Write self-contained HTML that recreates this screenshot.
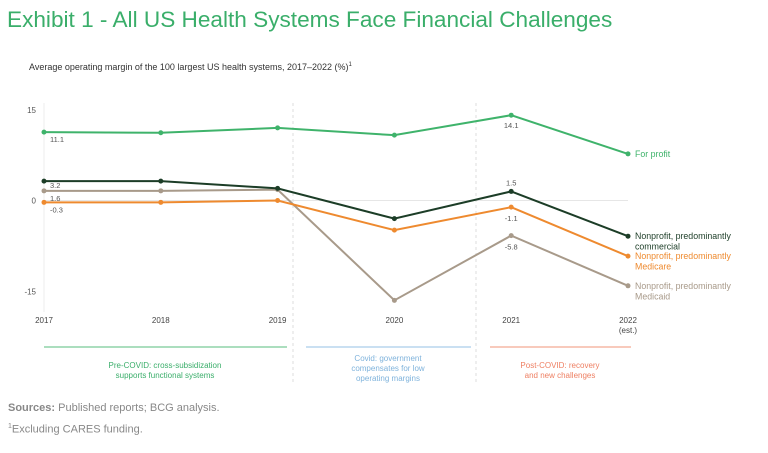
<!DOCTYPE html>
<html><head><meta charset="utf-8"><style>
body{margin:0;background:#fff;font-family:"Liberation Sans",sans-serif;}
#wrap{position:relative;width:768px;height:453px;overflow:hidden}
.t{position:absolute;white-space:nowrap}
</style></head><body>
<div id="wrap">
<div class="t" style="left:7px;top:7px;font-size:22.6px;color:#3aae6a;">Exhibit 1 - All US Health Systems Face Financial Challenges</div>
<div class="t" style="left:29px;top:62px;font-size:9px;color:#333;">Average operating margin of the 100 largest US health systems, 2017–2022 (%)<sup style="font-size:6px">1</sup></div>
<svg id="svg" width="768" height="453" style="position:absolute;left:0;top:0"></svg>
<div class="t" style="left:8px;top:402px;font-size:11px;color:#888;"><b>Sources:</b> Published reports; BCG analysis.</div>
<div class="t" style="left:8px;top:423px;font-size:11px;color:#888;"><sup style="font-size:7px">1</sup>Excluding CARES funding.</div>
</div>
<script>
const years=["2017","2018","2019","2020","2021","2022"];
const forProfit=[11.3,11.2,12.0,10.8,14.1,7.7];
const commercial=[3.2,3.2,2.0,-3.0,1.5,-5.9];
const medicare=[-0.3,-0.3,0.0,-4.9,-1.1,-9.2];
const medicaid=[1.6,1.6,1.8,-16.5,-5.8,-14.1];
const yTicks=[15,0,-15];
const NS="http://www.w3.org/2000/svg";
const svg=document.getElementById('svg');
function x(i){return 44+i*116.8;}
function y(v){return 200.5-v*6.05;}
function el(t,a,txt){const e=document.createElementNS(NS,t);for(const k in a)e.setAttribute(k,a[k]);if(txt!==undefined)e.textContent=txt;svg.appendChild(e);return e;}
let e=el('line',{x1:44,y1:103,x2:44,y2:312,stroke:'#eee'});

e=el('line',{x1:44,y1:y(0),x2:628,y2:y(0),stroke:'#e6e6e6'});

[293,476].forEach(xx=>{const d=el('line',{x1:xx,y1:103,x2:xx,y2:385,stroke:'#ddd','stroke-dasharray':'3,3'});
});
yTicks.forEach(v=>{const t=el('text',{x:36,y:y(v)+3,'font-size':8,fill:'#555','text-anchor':'end'},String(v));
});
years.forEach((yr,i)=>{const t=el('text',{x:x(i),y:323,'font-size':8,fill:'#444','text-anchor':'middle'},yr);
});
e=el('text',{x:x(5),y:333,'font-size':8,fill:'#444','text-anchor':'middle'},'(est.)');

const series=[[medicaid,'#a89a8a','medicaid'],[medicare,'#ee8a2f','medicare'],[commercial,'#1c3d27','commercial'],[forProfit,'#3fb36b','for-profit']];
series.forEach(([d,c,n])=>{
 const p=el('polyline',{points:d.map((v,i)=>x(i)+','+y(v)).join(' '),fill:'none',stroke:c,'stroke-width':2});
 
 d.forEach((v,i)=>{const m=el('circle',{cx:x(i),cy:y(v),r:2.5,fill:c});
 });
});
const labs=[[forProfit,0,'11.1',8],[commercial,0,'3.2',5],[medicaid,0,'1.6',8],[medicare,0,'-0.3',8],[forProfit,4,'14.1',11],[commercial,4,'1.5',-8],[medicare,4,'-1.1',12],[medicaid,4,'-5.8',12]];
labs.forEach(([d,i,s,dy])=>{const t=el('text',{x:i==0?x(i)+6:x(i),y:y(d[i])+dy+2,'font-size':7.5,fill:'#555','text-anchor':i==0?'start':'middle'},s);
});
const leg=[['For profit','',forProfit,'#3fb36b'],['Nonprofit, predominantly','commercial',commercial,'#1c3d27'],['Nonprofit, predominantly','Medicare',medicare,'#ee8a2f'],['Nonprofit, predominantly','Medicaid',medicaid,'#a89a8a']];
leg.forEach(([a,b,d,c])=>{const yy=y(d[5])+3;
 const t=el('text',{x:635,y:yy,'font-size':8.8,fill:c},a);
 if(b){const t2=el('text',{x:635,y:yy+10.5,'font-size':8.8,fill:c},b);}});
const phases=[[44,287,'#8fd3a8','#3aae6a',['Pre-COVID: cross-subsidization','supports functional systems'],165],[306,471,'#b9d6ee','#7fb3dc',['Covid: government','compensates for low','operating margins'],388],[490,631,'#f6b9a6','#ee7f62',['Post-COVID: recovery','and new challenges'],560]];
phases.forEach(([a,b,lc,tc,lines,cx])=>{const l=el('line',{x1:a,y1:347,x2:b,y2:347,stroke:lc,'stroke-width':1.5});
 
 lines.forEach((s,k)=>{const t=el('text',{x:cx,y:(lines.length==3?361:368)+k*10,'font-size':8,fill:tc,'text-anchor':'middle'},s);
 });});
</script>
</body></html>
